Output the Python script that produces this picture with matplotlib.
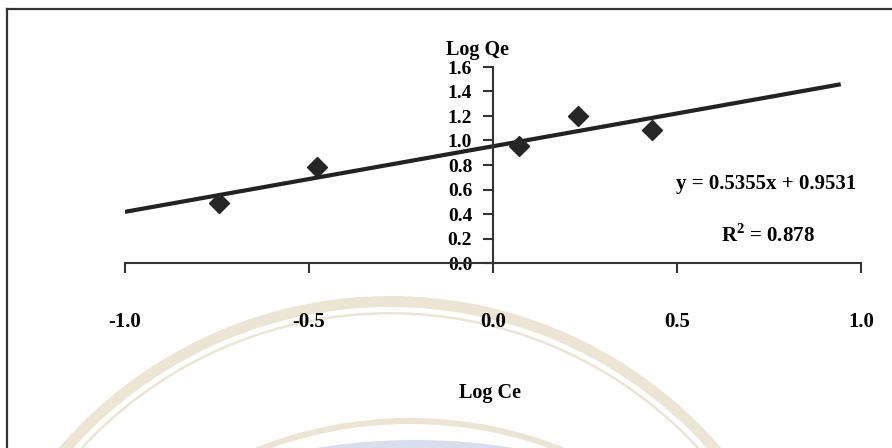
import matplotlib
matplotlib.use("Agg")
import matplotlib.pyplot as plt
from matplotlib.patches import Circle, Wedge
from matplotlib.lines import Line2D
import numpy as np

# data
log_ce = [-0.745, -0.478, 0.071, 0.231, 0.431]
log_qe = [0.49, 0.78, 0.955, 1.20, 1.086]
slope = 0.5355
intercept = 0.9531
r2 = 0.878
trend_x = [-1.0, 0.945]
x_ticks = [-1.0, -0.5, 0.0, 0.5, 1.0]
y_ticks = [0.0, 0.2, 0.4, 0.6, 0.8, 1.0, 1.2, 1.4, 1.6]

plt.rcParams['font.family'] = ['Liberation Serif', 'DejaVu Serif']
plt.rcParams['font.weight'] = 'bold'
plt.rcParams['mathtext.fontset'] = 'custom'
plt.rcParams['mathtext.rm'] = 'Liberation Serif:bold'
plt.rcParams['mathtext.bf'] = 'Liberation Serif:bold'

fig = plt.figure(figsize=(8.92, 4.48), dpi=100)

# faint seal watermark behind the chart (pixel space)
bg = fig.add_axes([0, 0, 1, 1], zorder=0)
bg.set_xlim(0, 892)
bg.set_ylim(448, 0)
bg.axis('off')
beige = '#ede5d3'
bg.add_patch(Circle((415, 1060), 620, color='#d9deee', lw=0))
bg.add_patch(Wedge((390, 733), 437, 0, 360, width=11, color=beige, lw=0))
bg.add_patch(Wedge((390, 733), 421, 0, 360, width=2.5, color=beige, lw=0))
bg.add_patch(Wedge((410, 836), 418, 0, 360, width=6, color=beige, lw=0))

# outer frame (only left and top visible)
fig.add_artist(Line2D([7 / 892, 7 / 892], [0, 1 - 9 / 448], color='#333333', lw=1.6))
fig.add_artist(Line2D([7 / 892, 1], [1 - 9 / 448, 1 - 9 / 448], color='#333333', lw=1.6))

ax = fig.add_axes([125 / 892, 185 / 448, 736 / 892, 196 / 448], zorder=1)
ax.patch.set_alpha(0)
ax.set_xlim(-1.0, 1.0)
ax.set_ylim(0.0, 1.6)

xs = np.array(trend_x)
ax.plot(xs, slope * xs + intercept, color='#222222', lw=3, solid_capstyle='butt', zorder=2)
ax.plot(log_ce, log_qe, 'D', color='#262626', ms=10.5, zorder=3)

ax.spines['top'].set_visible(False)
ax.spines['right'].set_visible(False)
ax.spines['left'].set_position(('data', 0))
for s in ['left', 'bottom']:
    ax.spines[s].set_linewidth(1.5)
    ax.spines[s].set_color('#333333')

ax.set_xticks(x_ticks)
ax.set_xticklabels(['%.1f' % v for v in x_ticks])
ax.set_yticks(y_ticks)
ax.set_yticklabels(['%.1f' % v for v in y_ticks])
ax.tick_params(axis='x', direction='out', length=7, width=1.5, color='#333333',
               pad=28, labelsize=15)
ax.tick_params(axis='y', direction='out', length=7, width=1.5, color='#333333',
               pad=8, labelsize=14)

fig.text(478 / 892, 1 - 50 / 448, 'Log Qe', ha='center', va='center', fontsize=14.5,
         fontweight='bold')
fig.text(490 / 892, 1 - 393 / 448, 'Log Ce', ha='center', va='center', fontsize=14.5,
         fontweight='bold')
fig.text(766 / 892, 1 - 184 / 448, 'y = %.4fx + %.4f' % (slope, intercept),
         ha='center', va='center', fontsize=15, fontweight='bold')
fig.text(768 / 892, 1 - 235 / 448, 'R$^{\\mathbf{2}}$ = %.3f' % r2,
         ha='center', va='center', fontsize=15, fontweight='bold')

fig.savefig('out.png', dpi=100)
